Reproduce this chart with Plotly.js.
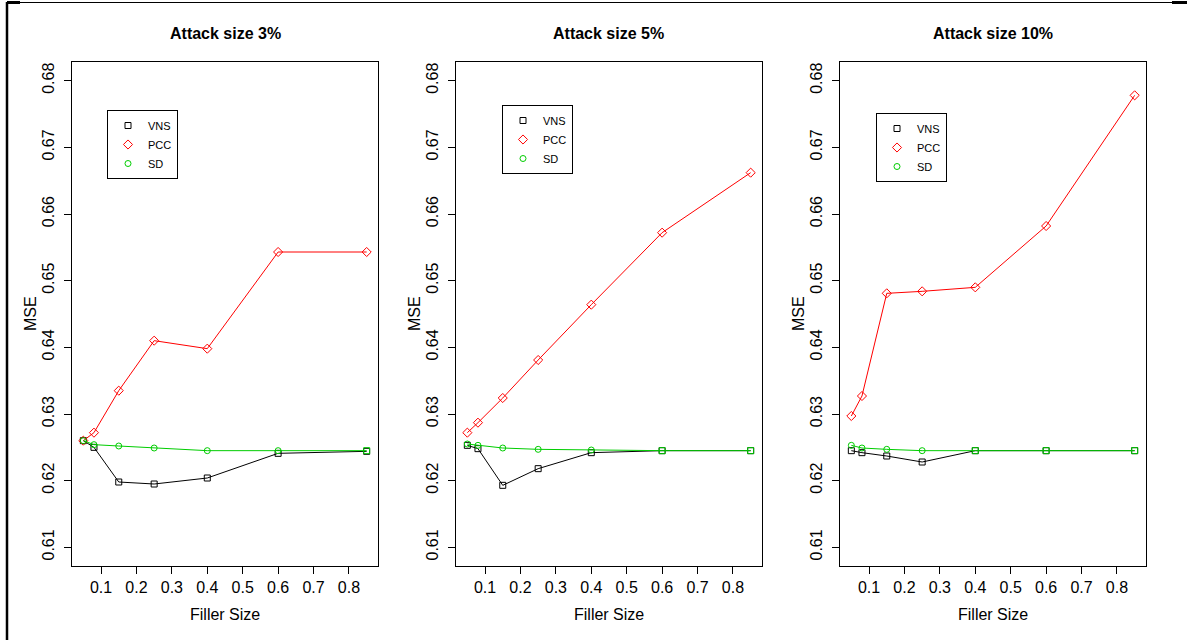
<!DOCTYPE html>
<html>
<head>
<meta charset="utf-8">
<script src="https://cdn.plot.ly/plotly-3.0.1.min.js"></script>
<style>html,body{margin:0;padding:0;background:#fff}#chart{width:1187px;height:640px}</style>
</head>
<body>
<div id="chart"></div>
<script>
// ---- data ----
var fillerSize = [0.05, 0.08, 0.15, 0.25, 0.4, 0.6, 0.85];
var panelTitles = ["Attack size 3%", "Attack size 5%", "Attack size 10%"];
var seriesNames = ["VNS", "PCC", "SD"];

var vns3  = [0.6260, 0.6250, 0.6198, 0.6195, 0.6204, 0.6241, 0.6244];
var pcc3  = [0.6260, 0.6272, 0.6335, 0.6410, 0.6398, 0.6543, 0.6543];
var sd3   = [0.6260, 0.6254, 0.6252, 0.6249, 0.6245, 0.6245, 0.6245];

var vns5  = [0.6253, 0.6248, 0.6193, 0.6218, 0.6242, 0.6245, 0.6245];
var pcc5  = [0.6272, 0.6287, 0.6324, 0.6381, 0.6464, 0.6572, 0.6662];
var sd5   = [0.6255, 0.6253, 0.6249, 0.6247, 0.6246, 0.6245, 0.6245];

var vns10 = [0.6245, 0.6242, 0.6237, 0.6228, 0.6245, 0.6245, 0.6245];
var pcc10 = [0.6297, 0.6327, 0.6481, 0.6484, 0.6490, 0.6582, 0.6778];
var sd10  = [0.6253, 0.6249, 0.6247, 0.6245, 0.6245, 0.6245, 0.6245];

var xTicks = [0.1, 0.2, 0.3, 0.4, 0.5, 0.6, 0.7, 0.8];
var yTicks = [0.61, 0.62, 0.63, 0.64, 0.65, 0.66, 0.67, 0.68];

// ---- styling / layout ----
var W = 1187, H = 640;
var FONT = "Liberation Sans, Arial, sans-serif";
var colors = ["#000000", "#FF0000", "#00CD00"];
var symbols = ["square-open", "diamond-open", "circle-open"];
var panels = [
  {vals: [vns3, pcc3, sd3],   left: 72,  right: 378, sdSq: 6},
  {vals: [vns5, pcc5, sd5],   left: 456, right: 762, sdSq: 5},
  {vals: [vns10, pcc10, sd10], left: 840, right: 1146, sdSq: 4}
];
var legendPos = [[107, 110], [502, 105], [876, 113]];
var boxTop = 62, boxBottom = 566;

function px(x) { return x / W; }
function py(y) { return 1 - y / H; }

var traces = [];
var layout = {
  width: W, height: H, autosize: false,
  margin: {l: 0, r: 0, t: 0, b: 0},
  paper_bgcolor: "#fff", plot_bgcolor: "#fff",
  font: {family: FONT, color: "#000", size: 16},
  showlegend: true,
  annotations: [], shapes: []
};

panels.forEach(function (p, i) {
  var n = i === 0 ? "" : String(i + 1);
  var xa = "x" + n, ya = "y" + n;
  var legendId = i === 0 ? "legend" : "legend" + (i + 1);
  p.vals.forEach(function (vals, s) {
    traces.push({
      x: fillerSize, y: vals, xaxis: xa, yaxis: ya, type: "scatter", mode: "lines",
      line: {color: colors[s], width: 1}, showlegend: false, hoverinfo: "skip"
    });
    var sym = symbols[s];
    if (s === 2) {
      sym = fillerSize.map(function (_, k) { return k >= p.sdSq ? "square-open" : "circle-open"; });
    }
    traces.push({
      x: fillerSize, y: vals, xaxis: xa, yaxis: ya, type: "scatter", mode: "markers",
      name: seriesNames[s], legend: legendId,
      marker: {symbol: sym, size: s === 1 ? 7 : 6, color: colors[s], line: {color: colors[s], width: 1}}
    });
  });

  var axX = {
    domain: [px(p.left), px(p.right)], anchor: ya,
    range: [0.018, 0.882], tickvals: xTicks, ticktext: xTicks.map(String),
    ticks: "outside", ticklen: 7, tickcolor: "#000", tickwidth: 1,
    showline: true, mirror: true, linecolor: "#000", linewidth: 1,
    showgrid: false, zeroline: false, tickfont: {size: 16, family: FONT, color: "#000"}
  };
  var axY = {
    domain: [py(boxBottom), py(boxTop)], anchor: xa,
    range: [0.6072, 0.6828], tickvals: yTicks, ticktext: yTicks.map(function (v) { return v.toFixed(2); }),
    tickangle: -90, ticklabelstandoff: 4,
    ticks: "outside", ticklen: 7, tickcolor: "#000", tickwidth: 1,
    showline: true, mirror: true, linecolor: "#000", linewidth: 1,
    showgrid: false, zeroline: false, tickfont: {size: 16, family: FONT, color: "#000"}
  };
  layout["xaxis" + n] = axX;
  layout["yaxis" + n] = axY;

  layout[legendId] = {
    x: px(legendPos[i][0]), y: py(legendPos[i][1]), xanchor: "left", yanchor: "top",
    bgcolor: "#fff", bordercolor: "#000", borderwidth: 1,
    font: {size: 11, family: FONT, color: "#000"}, itemwidth: 30, tracegroupgap: 0
  };

  var cx = (p.left + p.right) / 2;
  layout.annotations.push({
    text: "<b>" + panelTitles[i] + "</b>", xref: "paper", yref: "paper",
    x: px(cx), y: py(34), xanchor: "center", yanchor: "middle", showarrow: false,
    font: {size: 16, family: FONT, color: "#000"}
  });
  layout.annotations.push({
    text: "Filler Size", xref: "paper", yref: "paper",
    x: px(cx), y: py(614), xanchor: "center", yanchor: "middle", showarrow: false,
    font: {size: 16, family: FONT, color: "#000"}
  });
  layout.annotations.push({
    text: "MSE", xref: "paper", yref: "paper", textangle: -90,
    x: px(p.left - 42), y: py((boxTop + boxBottom) / 2), xanchor: "center", yanchor: "middle", showarrow: false,
    font: {size: 16, family: FONT, color: "#000"}
  });
});

layout.shapes.push({type: "line", xref: "paper", yref: "paper", x0: px(7), x1: px(7), y0: 0, y1: py(2), line: {color: "#000", width: 2.5}});
layout.shapes.push({type: "line", xref: "paper", yref: "paper", x0: px(7), x1: px(1187), y0: py(2.5), y1: py(2.5), line: {color: "#000", width: 1}});
layout.shapes.push({type: "line", xref: "paper", yref: "paper", x0: px(7), x1: px(20), y0: py(2.5), y1: py(2.5), line: {color: "#000", width: 3}});
layout.shapes.push({type: "line", xref: "paper", yref: "paper", x0: px(1172), x1: px(1187), y0: py(2.5), y1: py(2.5), line: {color: "#000", width: 3}});

Plotly.newPlot("chart", traces, layout, {displayModeBar: false, staticPlot: true});
</script>
</body>
</html>
